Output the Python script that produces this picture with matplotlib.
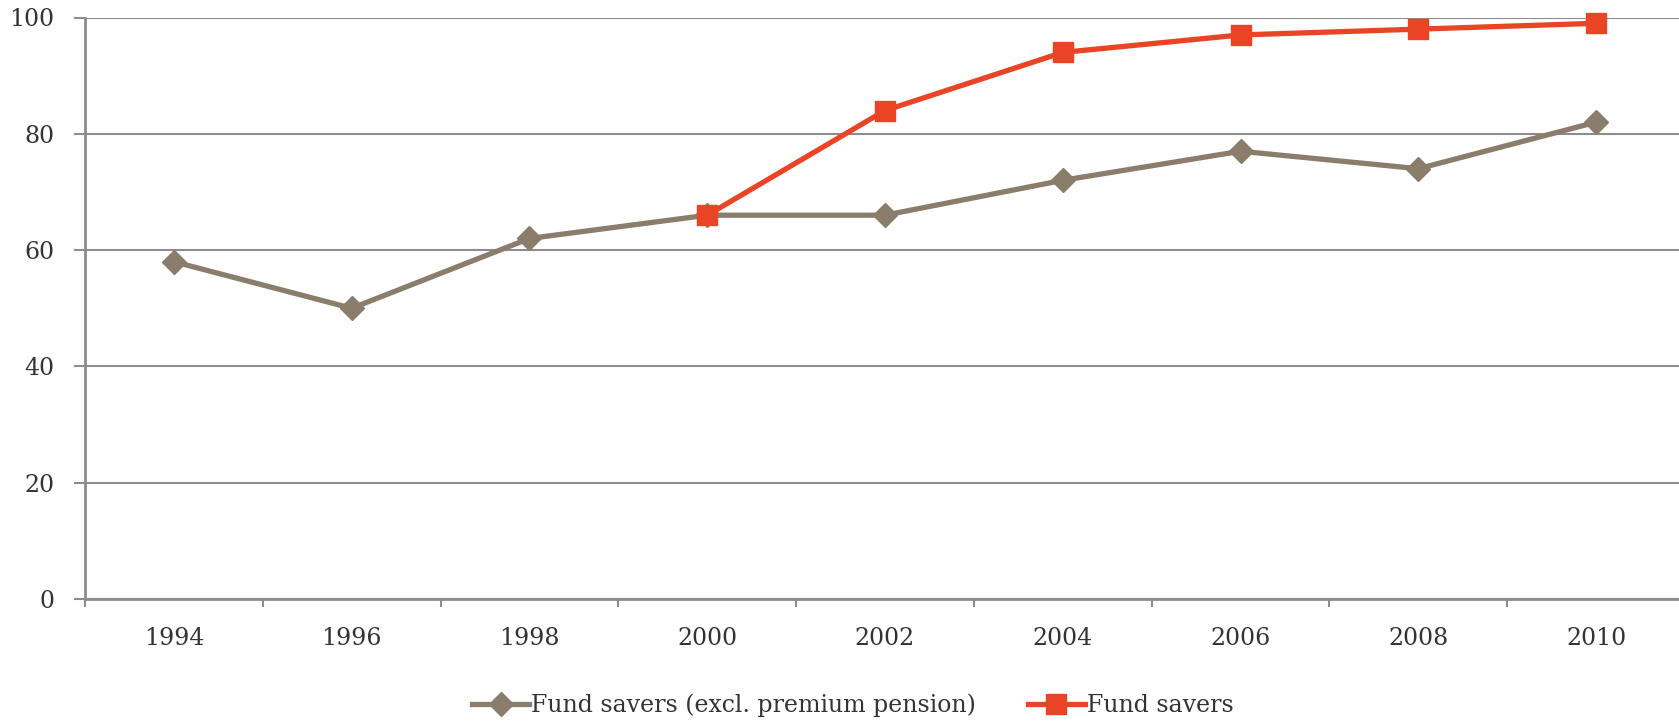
import matplotlib
matplotlib.use("Agg")
import matplotlib.pyplot as plt
import numpy as np

years = ["1994", "1996", "1998", "2000", "2002", "2004", "2006", "2008", "2010"]
excl_premium = [58, 50, 62, 66, 66, 72, 77, 74, 82]
fund_years = ["2000", "2002", "2004", "2006", "2008", "2010"]
fund_savers = [66, 84, 94, 97, 98, 99]
y_ticks = [0, 20, 40, 60, 80, 100]

gray = "#8B7D6B"
red = "#E84425"
grid = "#8C8C8C"

plt.rcParams["font.family"] = ["DejaVu Serif"]

W, H = 1679, 721
fig = plt.figure(figsize=(W / 100, H / 100), dpi=100)
# axes runs a little past the right edge, like the original
ax = fig.add_axes([85 / W, 1 - 599 / H, 1600 / W, 581.5 / H])

x_all = np.arange(len(years))
x_fund = [years.index(y) for y in fund_years]

ax.plot(x_all, excl_premium, color=gray, lw=3.8, marker="D", ms=12.5,
        label="Fund savers (excl. premium pension)", zorder=3, clip_on=False)
ax.plot(x_fund, fund_savers, color=red, lw=3.8, marker="s", ms=15,
        label="Fund savers", zorder=4, clip_on=False)

ax.set_xlim(-0.5, len(years) - 0.5)
ax.set_ylim(0, 100)
ax.set_yticks(y_ticks)
ax.set_yticklabels([str(v) for v in y_ticks])
ax.yaxis.grid(True, color=grid, lw=1.5)
ax.set_axisbelow(True)

fs = 17
ax.set_xticks(x_all)
ax.set_xticklabels(years)
ax.set_xticks(np.arange(len(years) + 1) - 0.5, minor=True)
ax.tick_params(axis="x", which="major", length=0, pad=20, labelsize=fs, labelcolor="#333333")
ax.tick_params(axis="x", which="minor", length=6, width=1.5, color=grid)
ax.tick_params(axis="y", length=8, width=1.5, color=grid, pad=14, labelsize=fs, labelcolor="#333333")

for s in ["top", "right"]:
    ax.spines[s].set_visible(False)
for s in ["left", "bottom"]:
    ax.spines[s].set_color(grid)
    ax.spines[s].set_linewidth(2)

fig.legend(loc="center", bbox_to_anchor=(853 / W, 1 - 705 / H), ncol=2, frameon=False,
           fontsize=fs, handlelength=2.4, handletextpad=0.1, columnspacing=2.2,
           labelcolor="#333333")

fig.savefig("out.png", dpi=100)
